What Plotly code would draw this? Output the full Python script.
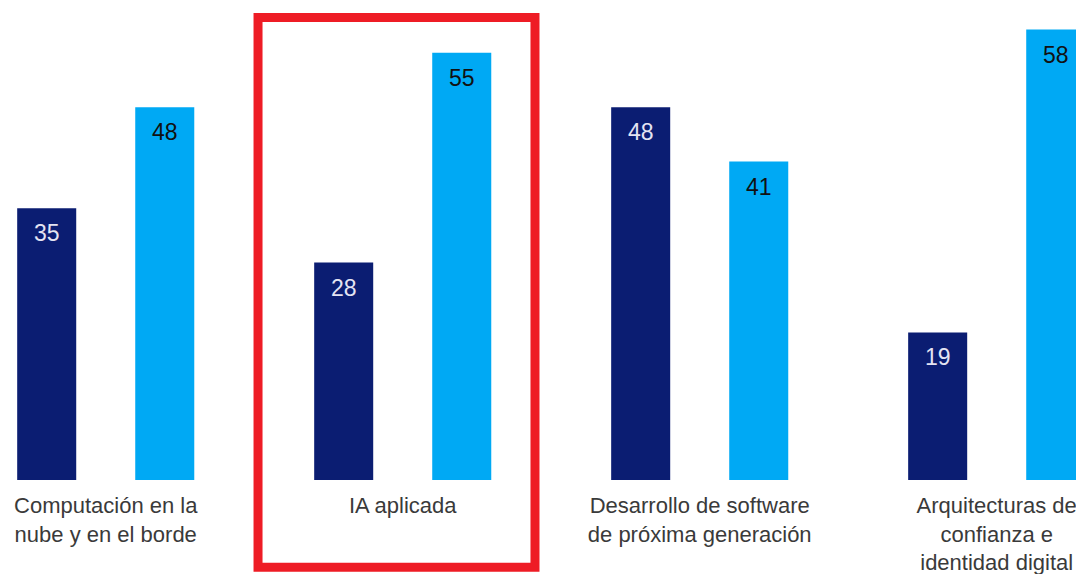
import plotly.graph_objects as go

categories = [
    "Computación en la<br>nube y en el borde",
    "IA aplicada",
    "Desarrollo de software<br>de próxima generación",
    "Arquitecturas de<br>confianza e<br>identidad digital",
]
series_a = [35, 28, 48, 19]
series_b = [48, 55, 41, 58]

DARK = "#0b1d72"
LIGHT = "#00a9f4"
BARGAP = 0.205
GROUPGAP = 0.5

x = list(range(len(categories)))
fig = go.Figure()
fig.add_bar(x=x, y=series_a, marker_color=DARK, marker_line_width=0, name="A")
fig.add_bar(x=x, y=series_b, marker_color=LIGHT, marker_line_width=0, name="B")

# offset of each bar centre from the category centre (in category units)
slot = (1 - BARGAP) / 2
off = slot / 2
annotations = []
for i, (a, b) in enumerate(zip(series_a, series_b)):
    annotations.append(dict(x=i - off, y=a, xref="x", yref="y", text=str(a),
                            showarrow=False, yanchor="middle", yshift=-25,
                            font=dict(size=23, color="#e4e4f2", family="Liberation Sans, Arial")))
    annotations.append(dict(x=i + off, y=b, xref="x", yref="y", text=str(b),
                            showarrow=False, yanchor="middle", yshift=-25,
                            font=dict(size=23, color="#111111", family="Liberation Sans, Arial")))

fig.update_layout(
    width=1076, height=574,
    margin=dict(l=0, r=0, t=0, b=94),
    paper_bgcolor="white", plot_bgcolor="white",
    barmode="group", bargap=BARGAP, bargroupgap=GROUPGAP,
    showlegend=False,
    font=dict(family="Liberation Sans, Arial", color="#333333"),
    xaxis=dict(range=[-0.356, 3.267], tickmode="array", tickvals=x, ticktext=categories,
               showgrid=False, zeroline=False, showline=False, ticks="",
               ticklabeloverflow="allow", ticklabelstandoff=10,
               tickfont=dict(size=22, color="#3a3a3a")),
    yaxis=dict(range=[0, 61.8], visible=False, showgrid=False, zeroline=False),
    annotations=annotations,
    shapes=[dict(type="rect", xref="paper", yref="paper",
                 x0=0.2398, x1=0.4972, y0=-0.182, y1=0.9635,
                 line=dict(color="#ee1c25", width=9))],
)

fig.write_html("out.html")
